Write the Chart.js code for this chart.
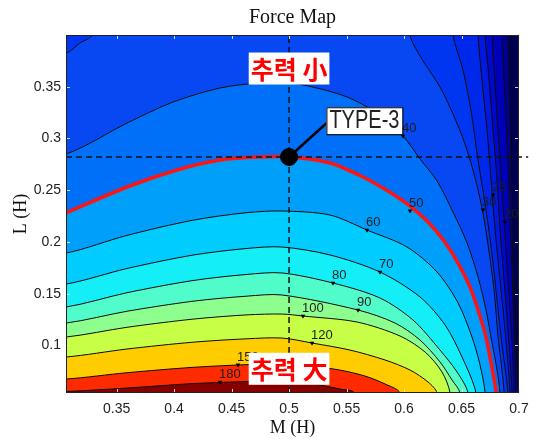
<!DOCTYPE html>
<html lang="ko">
<head>
<meta charset="UTF-8">
<title>Force Map</title>
<script src="https://cdn.jsdelivr.net/npm/chart.js"></script>
<style>
  html, body { margin: 0; padding: 0; background: #fff; }
</style>
</head>
<body>
<canvas id="map" width="542" height="439"></canvas>
<script>
// axes
const mRange = [0.306, 0.7];
const lRange = [0.054, 0.40];
const mTicks = [0.35, 0.4, 0.45, 0.5, 0.55, 0.6, 0.65, 0.7];
const mTickLabels = ['0.35', '0.4', '0.45', '0.5', '0.55', '0.6', '0.65', '0.7'];
const lTicks = [0.1, 0.15, 0.2, 0.25, 0.3, 0.35];
const lTickLabels = ['0.1', '0.15', '0.2', '0.25', '0.3', '0.35'];

// contour lines, [M, L] pairs
const c180 = [[0.306,0.0555],[0.359,0.0588],[0.4165,0.0631],[0.4634,0.0651],[0.494,0.0656],[0.5095,0.0646],[0.527,0.0617],[0.544,0.0579],[0.557,0.054]];
const c150 = [[0.306,0.0675],[0.359,0.0736],[0.4165,0.0788],[0.4634,0.0814],[0.494,0.082],[0.518,0.0801],[0.544,0.0762],[0.566,0.0704],[0.5835,0.0627],[0.5965,0.054]];
const c120 = [[0.306,0.0888],[0.359,0.0965],[0.4165,0.1031],[0.4634,0.1064],[0.494,0.1071],[0.52,0.1023],[0.553,0.0955],[0.5835,0.0859],[0.6052,0.0762],[0.6209,0.0646],[0.6287,0.054]];
const c100 = [[0.306,0.1081],[0.359,0.1175],[0.4165,0.1254],[0.4634,0.1295],[0.494,0.1303],[0.5121,0.1284],[0.5591,0.1226],[0.5965,0.1091],[0.6183,0.0936],[0.633,0.0743],[0.64,0.054]];
const c90 = [[0.306,0.1216],[0.359,0.133],[0.4165,0.1427],[0.4634,0.1476],[0.494,0.1487],[0.56,0.1342],[0.5922,0.1216],[0.6139,0.1052],[0.6313,0.084],[0.6417,0.0666],[0.6487,0.054]];
const c80 = [[0.306,0.1371],[0.359,0.1509],[0.4165,0.1627],[0.4634,0.1686],[0.494,0.17],[0.5382,0.1603],[0.5791,0.1458],[0.6078,0.1245],[0.6313,0.0955],[0.6461,0.0743],[0.6557,0.054]];
const c70 = [[0.306,0.1593],[0.359,0.1743],[0.4165,0.1873],[0.4634,0.1937],[0.494,0.1951],[0.5356,0.1874],[0.5791,0.1709],[0.6139,0.1468],[0.6357,0.1197],[0.6504,0.0888],[0.6626,0.054]];
const c60 = [[0.306,0.1893],[0.359,0.2063],[0.4165,0.221],[0.4634,0.2283],[0.494,0.2299],[0.5356,0.226],[0.5678,0.2115],[0.6026,0.1951],[0.6287,0.1709],[0.647,0.141],[0.6591,0.1081],[0.6661,0.0811],[0.6705,0.054]];
const c50 = [[0.306,0.228],[0.3591,0.2531],[0.4025,0.2695],[0.44,0.2792],[0.4747,0.2821],[0.5017,0.2821],[0.5356,0.2763],[0.5643,0.2628],[0.586,0.2492],[0.6052,0.2347],[0.6209,0.2193],[0.6348,0.2009],[0.647,0.1796],[0.6574,0.1564],[0.6644,0.1342],[0.6713,0.1081],[0.6757,0.083],[0.6792,0.0617],[0.68,0.054]];
const c40 = [[0.306,0.285],[0.3591,0.3149],[0.3991,0.3352],[0.44,0.3488],[0.4747,0.3536],[0.5008,0.3536],[0.5208,0.3497],[0.5504,0.3401],[0.5748,0.3256],[0.5991,0.3024],[0.6139,0.2802],[0.6287,0.2589],[0.6426,0.2289],[0.6548,0.199],[0.6644,0.1661],[0.6713,0.1342],[0.6766,0.1023],[0.6809,0.0762],[0.6835,0.054]];
const c30a = [[0.306,0.3826],[0.3182,0.3923],[0.3286,0.40]];
const c30b = [[0.6052,0.40],[0.6139,0.3797],[0.6313,0.3497],[0.6426,0.3236],[0.653,0.2947],[0.6609,0.2657],[0.6678,0.2328],[0.6731,0.197],[0.6783,0.1535],[0.6818,0.1081],[0.6852,0.0762],[0.687,0.054]];
const c25 = [[0.6426,0.40],[0.6513,0.3662],[0.6583,0.3265],[0.6644,0.2792],[0.6713,0.2309],[0.6766,0.1874],[0.6809,0.1439],[0.6852,0.1004],[0.6904,0.054]];
const c20 = [[0.6644,0.40],[0.6678,0.3565],[0.6722,0.3082],[0.6757,0.2599],[0.6792,0.2115],[0.6835,0.1632],[0.6878,0.1149],[0.6922,0.054]];
const c15 = [[0.6705,0.40],[0.674,0.3565],[0.6774,0.3082],[0.6809,0.2599],[0.6835,0.2115],[0.687,0.1632],[0.6904,0.1149],[0.6939,0.054]];
const c10 = [[0.6766,0.40],[0.68,0.3372],[0.6835,0.2792],[0.687,0.2212],[0.6904,0.1632],[0.6939,0.1052],[0.6957,0.054]];
const c5 = [[0.6852,0.40],[0.6878,0.3372],[0.6904,0.2792],[0.6922,0.2212],[0.6948,0.1439],[0.6974,0.054]];
const c2 = [[0.6904,0.40],[0.6922,0.3178],[0.6939,0.2212],[0.6957,0.1439],[0.6991,0.054]];

// contour labels: [M, L, text]
const labelMarks = [
  [0.5991, 0.3024, '40'], [0.6052, 0.2300, '50'], [0.5678, 0.2115, '60'],
  [0.5791, 0.1709, '70'], [0.5382, 0.1603, '80'], [0.5600, 0.1342, '90'],
  [0.5121, 0.1284, '100'], [0.5200, 0.1023, '120'], [0.4556, 0.0811, '150'],
  [0.4400, 0.0646, '180'], [0.6687, 0.2309, '30'], [0.6774, 0.2454, '25'],
  [0.6878, 0.2193, '20']
];

// design point and notes
const typePoint = [0.5, 0.2821];
const typeLabelAt = [0.5325, 0.3147];
const noteLow = [0.5, 0.3676, '추력 小'];
const noteHigh = [0.5, 0.0774, '추력 大'];

const fillColor = {
  2: '#000094', 5: '#0000b8', 10: '#0008d0', 15: '#0018e0', 20: '#0028ea',
  25: '#0036f0', 30: '#0848f2', 40: '#0070f8', 50: '#00a0fa', 60: '#00ccff',
  70: '#14eef6', 80: '#50fcca', 90: '#8cff8e', 100: '#c6ff46', 120: '#ffcc00',
  150: '#ff2a00', 180: '#860000'
};

const OUT = 0.03;
const xy = pts => pts.map(([m, l]) => ({ x: m, y: l }));

function leftToBottom(pts) {
  const f = pts[0], e = pts[pts.length - 1];
  return [[mRange[0] - OUT, f[1]], ...pts, [e[0], lRange[0] - OUT], [mRange[0] - OUT, lRange[0] - OUT]];
}
function topToBottom(pts) {
  const f = pts[0], e = pts[pts.length - 1];
  return [[f[0], lRange[1] + OUT], ...pts, [e[0], lRange[0] - OUT],
    [mRange[0] - OUT, lRange[0] - OUT], [mRange[0] - OUT, lRange[1] + OUT]];
}
function shape30() {
  const e = c30b[c30b.length - 1];
  return [[mRange[0] - OUT, c30a[0][1]], ...c30a, [c30a[c30a.length - 1][0], lRange[1] + OUT],
    [c30b[0][0], lRange[1] + OUT], ...c30b, [e[0], lRange[0] - OUT], [mRange[0] - OUT, lRange[0] - OUT]];
}

const bands = [
  [2, topToBottom(c2)], [5, topToBottom(c5)], [10, topToBottom(c10)],
  [15, topToBottom(c15)], [20, topToBottom(c20)], [25, topToBottom(c25)],
  [30, shape30()], [40, leftToBottom(c40)], [50, leftToBottom(c50)],
  [60, leftToBottom(c60)], [70, leftToBottom(c70)], [80, leftToBottom(c80)],
  [90, leftToBottom(c90)], [100, leftToBottom(c100)], [120, leftToBottom(c120)],
  [150, leftToBottom(c150)], [180, leftToBottom(c180)]
];

const datasets = [];
bands.forEach(([lv, pts]) => {
  const red = lv === 50;
  datasets.push({
    data: xy(pts), fill: 'shape', backgroundColor: fillColor[lv],
    borderColor: red ? 'transparent' : '#0c0c0c', borderWidth: red ? 0 : 1,
    tension: 0.3, clip: 0
  });
});
// red 50 contour drawn over the others
datasets.push({
  data: xy(c50), fill: false, borderColor: '#ff1414', borderWidth: 3.5, tension: 0.3
});
// dashed guides
datasets.push({
  data: xy([[mRange[0], typePoint[1]], [0.708, typePoint[1]]]), fill: false,
  borderColor: '#111', borderWidth: 1.5, borderDash: [6, 4], clip: { left: 0, top: 0, right: 10, bottom: 0 }
});
datasets.push({
  data: xy([[typePoint[0], lRange[0]], [typePoint[0], lRange[1]]]), fill: false,
  borderColor: '#111', borderWidth: 1.5, borderDash: [6, 4]
});
// label markers
datasets.push({
  data: xy(labelMarks.map(d => [d[0], d[1]])), showLine: false, pointRadius: 2.2,
  pointStyle: 'triangle', rotation: 180, pointBackgroundColor: '#000', pointBorderColor: '#000', pointBorderWidth: 0.5
});
// leader and design point
datasets.push({
  data: xy([typePoint, typeLabelAt]), fill: false, borderColor: '#000', borderWidth: 2.5, clip: 10
});
datasets.push({
  data: xy([typePoint]), showLine: false, pointRadius: 8.5,
  pointBackgroundColor: '#000', pointBorderColor: '#000', clip: 10
});

datasets.forEach((d, i) => {
  d.order = datasets.length - i;
  if (d.pointRadius === undefined) d.pointRadius = 0;
});

const overlay = {
  id: 'overlay',
  beforeDatasetsDraw(chart) {
    const { ctx, chartArea: a } = chart;
    ctx.save();
    ctx.fillStyle = '#000050';
    ctx.fillRect(a.left, a.top, a.right - a.left, a.bottom - a.top);
    ctx.restore();
  },
  afterDatasetsDraw(chart) {
    const { ctx, chartArea: a, scales: { x, y } } = chart;
    ctx.save();
    ctx.beginPath();
    ctx.rect(a.left, a.top, a.right - a.left, a.bottom - a.top);
    ctx.clip();
    ctx.font = '13px "Liberation Sans", Arial, sans-serif';
    ctx.fillStyle = '#1c1c1c';
    ctx.textAlign = 'left';
    ctx.textBaseline = 'alphabetic';
    labelMarks.forEach(([m, l, t]) => {
      ctx.fillText(t, x.getPixelForValue(m) - 1, y.getPixelForValue(l) - 4);
    });
    ctx.restore();

    ctx.save();
    // red notes
    ctx.font = 'bold 25px "Noto Sans CJK KR", sans-serif';
    ctx.textAlign = 'center';
    ctx.textBaseline = 'middle';
    [noteLow, noteHigh].forEach(([m, l, t]) => {
      const px = x.getPixelForValue(m), py = y.getPixelForValue(l);
      const w = ctx.measureText(t).width + 4;
      ctx.fillStyle = '#fff';
      ctx.fillRect(px - w / 2, py - 16, w, 32);
      ctx.fillStyle = '#ff0000';
      ctx.fillText(t, px, py + 1);
    });
    // TYPE-3 box
    const bx = x.getPixelForValue(typeLabelAt[0]), by = y.getPixelForValue(typeLabelAt[1]);
    ctx.fillStyle = '#fff';
    ctx.fillRect(bx, by - 16, 76, 27);
    ctx.strokeStyle = '#000';
    ctx.lineWidth = 1;
    ctx.strokeRect(bx + 0.5, by - 15.5, 76, 27);
    ctx.save();
    ctx.translate(bx + 38, by - 2.5);
    ctx.scale(1, 1.25);
    ctx.font = '20px "Liberation Sans", Arial, sans-serif';
    ctx.fillStyle = '#222';
    ctx.fillText('TYPE-3', 0, 0);
    ctx.restore();

    // inner ticks
    ctx.strokeStyle = 'rgba(235,235,235,0.9)';
    ctx.lineWidth = 1;
    ctx.beginPath();
    mTicks.forEach(v => {
      const px = Math.round(x.getPixelForValue(v)) + 0.5;
      ctx.moveTo(px, a.top); ctx.lineTo(px, a.top + 4);
      ctx.moveTo(px, a.bottom); ctx.lineTo(px, a.bottom - 4);
    });
    lTicks.forEach(v => {
      const py = Math.round(y.getPixelForValue(v)) + 0.5;
      ctx.moveTo(a.left, py); ctx.lineTo(a.left + 4, py);
      ctx.moveTo(a.right, py); ctx.lineTo(a.right - 4, py);
    });
    ctx.stroke();
    // frame
    ctx.strokeStyle = '#222';
    ctx.strokeRect(a.left + 0.5, a.top + 0.5, a.right - a.left - 1, a.bottom - a.top - 1);
    ctx.restore();
  },
  afterDraw(chart) {
    const { ctx, chartArea: a } = chart;
    ctx.save();
    ctx.font = '20px "Liberation Serif", "Times New Roman", serif';
    ctx.fillStyle = '#111';
    ctx.textAlign = 'center';
    ctx.textBaseline = 'middle';
    ctx.fillText('Force Map', (a.left + a.right) / 2, 18);
    ctx.restore();
  }
};

new Chart(document.getElementById('map'), {
  type: 'line',
  data: { datasets },
  plugins: [overlay],
  options: {
    responsive: false,
    devicePixelRatio: 1,
    animation: false,
    events: [],
    layout: { padding: { top: 35, right: 23, left: 0, bottom: 0 } },
    elements: { line: { capBezierPoints: false } },
    plugins: { legend: { display: false }, tooltip: { enabled: false }, title: { display: false } },
    scales: {
      x: {
        type: 'linear', min: mRange[0], max: mRange[1],
        grid: { display: false, drawTicks: false },
        border: { display: false },
        afterBuildTicks: s => { s.ticks = mTicks.map(v => ({ value: v })); },
        afterFit: s => { s.height = 46; },
        ticks: {
          autoSkip: false, maxRotation: 0, padding: 8, color: '#222',
          font: { family: '"Liberation Sans", Arial, sans-serif', size: 14 },
          callback: (v, i) => mTickLabels[i]
        },
        title: {
          display: true, text: 'M (H)', color: '#111', padding: { top: 0, bottom: 0 },
          font: { family: '"Liberation Serif", "Times New Roman", serif', size: 18 }
        }
      },
      y: {
        type: 'linear', min: lRange[0], max: lRange[1],
        grid: { display: false, drawTicks: false },
        border: { display: false },
        afterBuildTicks: s => { s.ticks = lTicks.map(v => ({ value: v })); },
        afterFit: s => { s.width = 66; },
        ticks: {
          autoSkip: false, padding: 5, color: '#222',
          font: { family: '"Liberation Sans", Arial, sans-serif', size: 14 },
          callback: (v, i) => lTickLabels[i]
        },
        title: {
          display: true, text: 'L (H)', color: '#111', padding: { top: 10, bottom: 0 },
          font: { family: '"Liberation Serif", "Times New Roman", serif', size: 18 }
        }
      }
    }
  }
});
</script>
</body>
</html>
